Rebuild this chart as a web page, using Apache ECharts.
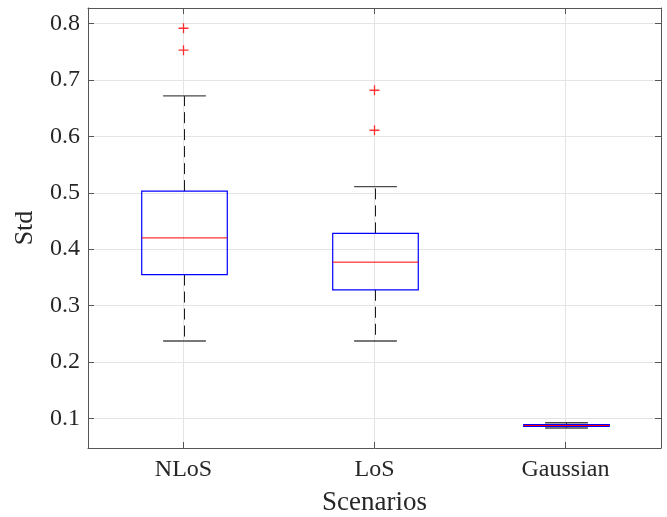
<!DOCTYPE html>
<html>
<head>
<meta charset="utf-8">
<script src="https://cdn.jsdelivr.net/npm/echarts@6/dist/echarts.min.js"></script>
<style>
html,body{margin:0;padding:0;background:#fff;}
#chart{width:667px;height:517px;}
</style>
</head>
<body>
<div id="chart"></div>
<script>
// ---- data ----
const categories = ['NLoS', 'LoS', 'Gaussian'];
const lowerWhisker = [0.237, 0.237, 0.0828];
const q1 = [0.355, 0.328, 0.0858];
const median = [0.420, 0.377, 0.0873];
const q3 = [0.503, 0.428, 0.0888];
const upperWhisker = [0.672, 0.511, 0.0920];
const outlierCategory = [1, 1, 2, 2];
const outlierValue = [0.792, 0.753, 0.682, 0.611];
const yTicks = [0.1, 0.2, 0.3, 0.4, 0.5, 0.6, 0.7, 0.8];

const boxData = categories.map((c, i) => [i + 1, lowerWhisker[i], q1[i], median[i], q3[i], upperWhisker[i]]);
const outlierData = outlierValue.map((v, i) => [outlierCategory[i], v]);

const FONT = 'Liberation Serif';
const TXT = '#262626';
const AX = '#555555';
const GRID = '#e4e4e4';

const chart = echarts.init(document.getElementById('chart'), null, {renderer: 'canvas'});

function isTick(v) { return yTicks.some(t => Math.abs(t - v) < 1e-9); }

const option = {
  backgroundColor: '#ffffff',
  animation: false,
  grid: {left: 88, right: 6, top: 8, bottom: 69, containLabel: false, outerBoundsMode: 'none'},
  xAxis: [{
    type: 'value', min: 0.5, max: 3.5, minInterval: 1, maxInterval: 1, splitNumber: 3,
    position: 'bottom',
    name: 'Scenarios', nameLocation: 'middle', nameGap: 41,
    nameTextStyle: {fontFamily: FONT, fontSize: 27, color: TXT},
    axisLine: {show: true, lineStyle: {color: AX, width: 1}},
    axisTick: {show: true, inside: true, length: 6, lineStyle: {color: AX}},
    axisLabel: {
      margin: 10, fontFamily: FONT, fontSize: 24, color: TXT,
      formatter: v => (Math.abs(v - Math.round(v)) < 1e-9 && v >= 1 && v <= 3) ? categories[Math.round(v) - 1] : ''
    },
    splitLine: {show: true, lineStyle: {color: GRID, width: 1}}
  }, {
    type: 'value', min: 0.5, max: 3.5, minInterval: 1, maxInterval: 1, splitNumber: 3,
    position: 'top',
    axisLine: {show: true, lineStyle: {color: AX, width: 1}},
    axisTick: {show: true, inside: true, length: 6, lineStyle: {color: AX}},
    axisLabel: {show: false},
    splitLine: {show: false}
  }],
  yAxis: [{
    type: 'value', min: 0.0473, max: 0.8279, minInterval: 0.1, maxInterval: 0.1, splitNumber: 8,
    position: 'left',
    name: 'Std', nameLocation: 'middle', nameGap: 50, nameRotate: 90,
    nameTextStyle: {fontFamily: FONT, fontSize: 26, color: TXT},
    axisLine: {show: true, lineStyle: {color: AX, width: 1}},
    axisTick: {show: true, inside: true, length: 6, lineStyle: {color: AX}},
    axisLabel: {
      margin: 8, fontFamily: FONT, fontSize: 24, color: TXT,
      formatter: v => isTick(v) ? v.toFixed(1) : ''
    },
    splitLine: {show: true, lineStyle: {color: GRID, width: 1}}
  }, {
    type: 'value', min: 0.0473, max: 0.8279, minInterval: 0.1, maxInterval: 0.1, splitNumber: 8,
    position: 'right',
    axisLine: {show: true, lineStyle: {color: AX, width: 1}},
    axisTick: {show: true, inside: true, length: 6, lineStyle: {color: AX}},
    axisLabel: {show: false},
    splitLine: {show: false}
  }],
  series: [{
    type: 'custom',
    xAxisIndex: 0, yAxisIndex: 0,
    data: boxData,
    encode: {x: 0, y: [1, 2, 3, 4, 5]},
    renderItem: function (params, api) {
      const x = api.value(0);
      const lw = api.coord([x, api.value(1)]);
      const b1 = api.coord([x, api.value(2)]);
      const md = api.coord([x, api.value(3)]);
      const b3 = api.coord([x, api.value(4)]);
      const uw = api.coord([x, api.value(5)]);
      const band = api.size([1, 0])[0];
      const hw = band * 0.224;
      const cw = hw / 2;
      const cx = Math.round(lw[0]) + 0.5;
      const dash = {stroke: '#1a1a1a', lineWidth: 1, lineDash: [11, 6]};
      const cap = {stroke: '#4a4a4a', lineWidth: 1.4};
      return {
        type: 'group',
        children: [
          {type: 'line', shape: {x1: cx, y1: b3[1], x2: cx, y2: uw[1]}, style: dash},
          {type: 'line', shape: {x1: cx, y1: b1[1], x2: cx, y2: lw[1]}, style: dash},
          {type: 'line', shape: {x1: cx - cw, y1: uw[1], x2: cx + cw, y2: uw[1]}, style: cap},
          {type: 'line', shape: {x1: cx - cw, y1: lw[1], x2: cx + cw, y2: lw[1]}, style: cap},
          {type: 'rect', shape: {x: cx - hw, y: b3[1], width: 2 * hw, height: b1[1] - b3[1]},
            style: {fill: 'none', stroke: '#0000ff', lineWidth: 1.2}},
          {type: 'line', shape: {x1: cx - hw, y1: md[1], x2: cx + hw, y2: md[1]},
            style: {stroke: '#ff0000', lineWidth: 1}}
        ]
      };
    },
    z: 3
  }, {
    type: 'scatter',
    xAxisIndex: 0, yAxisIndex: 0,
    data: outlierData,
    symbol: 'path://M0,5L10,5M5,0L5,10',
    symbolSize: 10,
    itemStyle: {color: 'rgba(0,0,0,0)', borderColor: '#ff0000', borderWidth: 1.3},
    z: 4
  }]
};
chart.setOption(option);
</script>
</body>
</html>
